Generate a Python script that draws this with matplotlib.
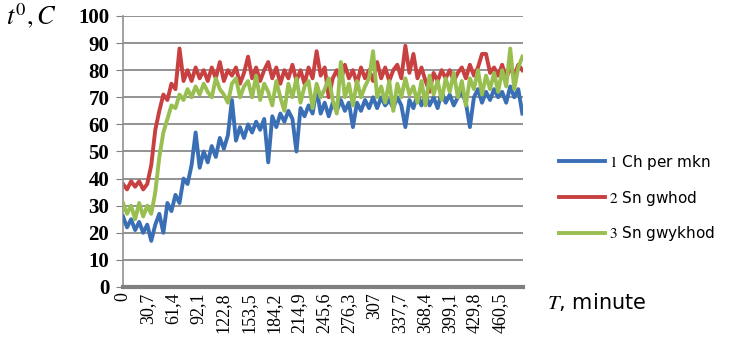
import numpy as np
import matplotlib
matplotlib.use('Agg')
import matplotlib.pyplot as plt

plt.rcParams['mathtext.fontset'] = 'stix'

# time grid (minutes), one reading every ~4.93 min
step = 4.93

ch_per_mkn = [26, 22, 25, 21, 24, 20, 23, 17, 23, 27, 20, 31, 28, 34, 31, 40, 38, 45, 57, 44,
              50, 46, 52, 48, 55, 51, 56, 69, 54, 59, 55, 60, 57, 61, 58, 62, 46, 63, 59, 64,
              61, 65, 62, 50, 66, 63, 67, 64, 73, 64, 68, 63, 68, 65, 69, 65, 68, 59, 68, 65,
              69, 66, 70, 66, 70, 67, 69, 66, 70, 67, 59, 69, 66, 71, 67, 71, 67, 70, 66, 72,
              68, 71, 67, 70, 72, 68, 59, 70, 73, 68, 72, 69, 73, 70, 72, 68, 74, 70, 73, 64]

sn_gwhod = [38, 36, 39, 37, 39, 36, 38, 45, 58, 65, 71, 69, 75, 73, 88, 76, 80, 76, 81, 77,
            80, 76, 81, 77, 83, 76, 80, 78, 81, 75, 79, 85, 77, 81, 76, 80, 83, 77, 81, 75,
            80, 77, 82, 76, 80, 75, 81, 77, 87, 78, 81, 70, 77, 80, 76, 82, 77, 80, 75, 81,
            77, 80, 76, 83, 77, 81, 76, 80, 82, 77, 89, 79, 86, 77, 81, 76, 72, 79, 76, 80,
            77, 80, 76, 79, 81, 77, 82, 78, 81, 86, 86, 79, 81, 78, 82, 77, 81, 78, 82, 80]

sn_gwykhod = [31, 27, 30, 25, 31, 26, 30, 27, 35, 48, 57, 62, 67, 66, 71, 69, 73, 70, 74, 71,
              75, 72, 70, 77, 73, 71, 68, 75, 77, 70, 74, 76, 70, 78, 69, 75, 72, 67, 76, 70,
              65, 75, 70, 77, 68, 74, 76, 66, 75, 70, 73, 77, 69, 64, 83, 70, 75, 67, 76, 70,
              74, 77, 87, 70, 74, 68, 76, 65, 75, 70, 77, 71, 74, 68, 76, 67, 78, 71, 76, 69,
              77, 72, 79, 70, 76, 67, 77, 73, 80, 71, 78, 73, 79, 72, 80, 74, 88, 73, 81, 85]

t = np.arange(len(ch_per_mkn)) * step

xticks = [0, 30.7, 61.4, 92.1, 122.8, 153.5, 184.2, 214.9, 245.6, 276.3, 307,
          337.7, 368.4, 399.1, 429.8, 460.5]
xlabels = ['0', '30,7', '61,4', '92,1', '122,8', '153,5', '184,2', '214,9', '245,6',
           '276,3', '307', '337,7', '368,4', '399,1', '429,8', '460,5']

fig = plt.figure(figsize=(7.52, 3.6), dpi=100)
ax = fig.add_axes([0.1636, 0.2028, 0.532, 0.7528])

l1, = ax.plot(t, ch_per_mkn, color='#3a6fb5', lw=2.8, zorder=3)
l3, = ax.plot(t, sn_gwykhod, color='#98bf50', lw=2.8, zorder=4)
l2, = ax.plot(t, sn_gwhod, color='#c8403f', lw=2.8, zorder=2)

ax.set_xlim(0, 489)
ax.set_ylim(0, 100)
ax.set_yticks(range(0, 101, 10))
ax.set_yticklabels([str(v) for v in range(0, 101, 10)], family='Liberation Serif',
                   fontsize=15, fontweight='bold')
ax.set_xticks(xticks)
ax.set_xticklabels(xlabels, rotation=90, family='Liberation Serif', fontsize=13)
ax.tick_params(axis='x', length=0, pad=4)
ax.tick_params(axis='y', length=5, color='#808080', pad=5)

ax.grid(axis='y', color='#808080', lw=1.2)
ax.set_axisbelow(True)
for s in ['top', 'right']:
    ax.spines[s].set_visible(False)
ax.spines['left'].set_color('#909090')
ax.spines['left'].set_linewidth(1.2)
ax.spines['bottom'].set_color('#7f7f7f')
ax.spines['bottom'].set_linewidth(3)

fig.text(0.008, 0.955, r'$t^0, C$', fontsize=19, va='center', ha='left')
fig.text(0.728, 0.162, r'$T$, minute', fontsize=15, va='center', ha='left')

fig.legend([l1, l2, l3],
           [r'$\mathrm{1}$ Ch per mkn', r'$\mathrm{2}$ Sn gwhod', r'$\mathrm{3}$ Sn gwykhod'],
           loc='center left', bbox_to_anchor=(0.725, 0.45), frameon=False,
           fontsize=11, handlelength=3.0, handletextpad=0.3, labelspacing=1.1)

fig.savefig('out.png', dpi=100)
